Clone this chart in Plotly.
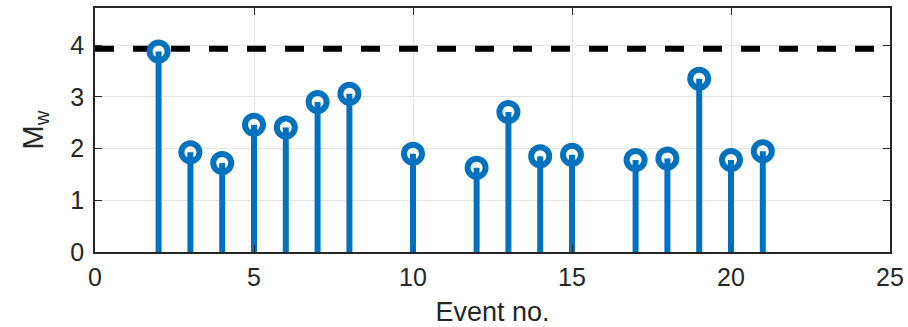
import plotly.graph_objects as go

event_no = [2, 3, 4, 5, 6, 7, 8, 10, 12, 13, 14, 15, 17, 18, 19, 20, 21]
mw = [3.88, 1.93, 1.72, 2.46, 2.41, 2.90, 3.06, 1.90, 1.63, 2.71, 1.85, 1.88, 1.78, 1.81, 3.35, 1.78, 1.95]
threshold_x = [0, 25]
threshold_y = [3.93, 3.93]
x_ticks = [0, 5, 10, 15, 20, 25]
y_ticks = [0, 1, 2, 3, 4]

blue = "#0072BD"
txt = "#262626"
fam = "Liberation Sans, Arial, sans-serif"

stem_x, stem_y = [], []
for xv, yv in zip(event_no, mw):
    stem_x += [xv, xv, None]
    stem_y += [0, yv, None]

fig = go.Figure()
fig.add_trace(go.Scatter(x=threshold_x, y=threshold_y, mode="lines",
                         line=dict(color="black", width=6, dash="19px,19px"),
                         hoverinfo="skip", showlegend=False))
fig.add_trace(go.Scatter(x=stem_x, y=stem_y, mode="lines",
                         line=dict(color=blue, width=6), showlegend=False))
fig.add_trace(go.Scatter(x=event_no, y=mw, mode="markers",
                         marker=dict(symbol="circle-open", size=18, color=blue,
                                     line=dict(width=6, color=blue)),
                         showlegend=False))

axis_common = dict(showline=True, linecolor=txt, linewidth=1.5, mirror="allticks",
                   ticks="inside", ticklen=7, tickwidth=1.2, tickcolor=txt,
                   showgrid=True, gridcolor="#e3e3e3", gridwidth=1, zeroline=False,
                   automargin=False,
                   tickfont=dict(family=fam, size=25, color=txt))

fig.update_layout(
    width=908, height=327,
    margin=dict(l=95, r=18, t=8, b=75),
    paper_bgcolor="white", plot_bgcolor="white",
    xaxis=dict(range=[0, 25], tickvals=x_ticks, ticktext=[str(v) for v in x_ticks],
               ticklabelstandoff=2,
               title=dict(text="Event no.", standoff=12,
                          font=dict(family=fam, size=27, color=txt)),
               **axis_common),
    yaxis=dict(range=[0, 4.72], tickvals=y_ticks, ticktext=[str(v) for v in y_ticks],
               ticklabelstandoff=4,
               title=dict(text="M<sub>w</sub>", standoff=18,
                          font=dict(family=fam, size=29, color=txt)),
               **axis_common),
)

fig.write_html("out.html")
